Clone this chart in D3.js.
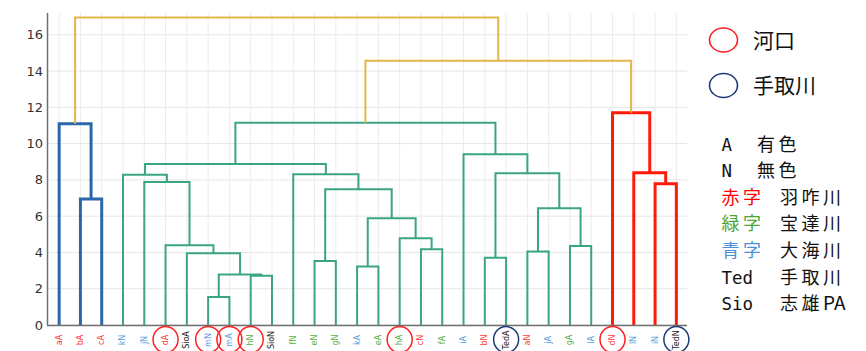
<!DOCTYPE html>
<html>
<head>
<meta charset="utf-8">
<script src="https://cdn.jsdelivr.net/npm/d3@7"></script>
<style>
  html, body { margin: 0; padding: 0; background: #fff; }
  svg { display: block; }
</style>
</head>
<body>
<svg id="chart" width="866" height="351"></svg>
<script>
// Leaf samples in dendrogram order
const leafLabels = ["aA","bA","cA","kN","jN","dA","SioA","mN","mA","hN","SioN","fN","eN","gN","kA","eA","hA","cN","fA","iA","bN","TedA","aN","jA","gA","lA","dN","lN","iN","TedN"];
// River of each sample: r = 羽咋川, g = 宝達川, b = 大海川, k = 手取川 / 志雄PA
const leafRiver = ["r","r","r","b","b","r","k","b","b","g","k","g","g","g","b","g","g","r","g","b","r","k","r","b","g","b","r","b","b","k"];
// Samples taken at a river mouth (red ring) and from the Tedori river (navy ring)
const mouthSamples = ["dA","mN","mA","hN","hA","dN"];
const tedoriSamples = ["TedA","TedN"];
// Linkage rows: [child a, child b, merge distance]; ids >= 30 refer to earlier rows
const linkage = [
  [7, 8, 1.55], [9, 10, 2.72], [30, 31, 2.78], [14, 15, 3.22], [12, 13, 3.53],
  [20, 21, 3.71], [6, 32, 3.95], [22, 23, 4.05], [17, 18, 4.17], [24, 25, 4.36],
  [5, 36, 4.40], [16, 38, 4.78], [33, 41, 5.89], [37, 39, 6.44], [1, 2, 6.95],
  [34, 42, 7.49], [28, 29, 7.78], [4, 40, 7.89], [3, 47, 8.28], [11, 45, 8.31],
  [35, 43, 8.37], [27, 46, 8.39], [48, 49, 8.88], [19, 50, 9.42], [0, 44, 11.09],
  [52, 53, 11.15], [26, 51, 11.70], [55, 56, 14.57], [54, 57, 16.95]
];
const yTicks = [0, 2, 4, 6, 8, 10, 12, 14, 16];
const legendMarks = [
  { text: "河口", ring: "#ff2020" },
  { text: "手取川", ring: "#1f3a78" }
];
const legendRows = [
  { key: "A", keyColor: "#111", desc: "有色", suffix: "" },
  { key: "N", keyColor: "#111", desc: "無色", suffix: "" },
  { key: "赤字", keyColor: "#ff0000", desc: "羽咋川", suffix: "" },
  { key: "緑字", keyColor: "#4fa534", desc: "宝達川", suffix: "" },
  { key: "青字", keyColor: "#4a8fd8", desc: "大海川", suffix: "" },
  { key: "Ted", keyColor: "#111", desc: "手取川", suffix: "" },
  { key: "Sio", keyColor: "#111", desc: "志雄", suffix: "PA" }
];

const riverColor = { r: "#ff3b3b", g: "#55b040", b: "#5b9be0", k: "#222" };
const clusterPalette = ["#2a68ab", "#3aa584", "#ff1a0a"];
const aboveColor = "#e3b54a";

const svg = d3.select("#chart");
const n = leafLabels.length;

const x = d3.scaleBand().domain(d3.range(n)).range([48.5, 687]);
const xc = i => x(i) + x.bandwidth() / 2;
const y = d3.scaleLinear().domain([0, 17.2]).range([325, 13]);

// grid
const grid = svg.append("g");
grid.selectAll("line.h").data(yTicks).join("line")
  .attr("x1", 48.5).attr("x2", 687)
  .attr("y1", d => y(d)).attr("y2", d => y(d))
  .attr("stroke", "#e6e6e6").attr("stroke-width", 1);
grid.selectAll("line.v").data(d3.range(n)).join("line")
  .attr("x1", d => xc(d)).attr("x2", d => xc(d))
  .attr("y1", y(0)).attr("y2", y(17.2))
  .attr("stroke", "#ececec").attr("stroke-width", 1);

// build node positions
const nodeX = d3.range(n).map(xc);
const nodeH = d3.range(n).map(() => 0);
linkage.forEach(([a, b, h]) => {
  nodeX.push((nodeX[a] + nodeX[b]) / 2);
  nodeH.push(h);
});

// colour clusters below the threshold
const maxH = d3.max(linkage, d => d[2]);
const threshold = 0.7 * maxH;
const linkColor = new Array(linkage.length).fill(aboveColor);
let paletteIdx = 0;
function paint(id, c) {
  if (id < n) return;
  linkColor[id - n] = c;
  paint(linkage[id - n][0], c);
  paint(linkage[id - n][1], c);
}
function assign(id) {
  if (id < n) return;
  const [a, b, h] = linkage[id - n];
  if (h < threshold) {
    paint(id, clusterPalette[paletteIdx++ % clusterPalette.length]);
  } else {
    assign(a); assign(b);
  }
}
assign(n + linkage.length - 1);

const links = linkage.map(([a, b, h], k) => ({ a, b, h, color: linkColor[k] }));
const line = d3.line().x(d => d[0]).y(d => y(d[1]));

svg.append("g").selectAll("path").data(links).join("path")
  .attr("d", d => line([[nodeX[d.a], nodeH[d.a]], [nodeX[d.a], d.h], [nodeX[d.b], d.h], [nodeX[d.b], nodeH[d.b]]]))
  .attr("fill", "none")
  .attr("stroke", d => d.color)
  .attr("stroke-width", d => d.color === aboveColor ? 2 : (d.color === clusterPalette[1] ? 2 : 3))
  .attr("stroke-linejoin", "miter");

// spines
svg.append("line").attr("x1", 47.5).attr("x2", 47.5).attr("y1", y(0)).attr("y2", y(17.2))
  .attr("stroke", "#707070").attr("stroke-width", 1.5);
svg.append("line").attr("x1", 47).attr("x2", 687).attr("y1", y(0) + 0.5).attr("y2", y(0) + 0.5)
  .attr("stroke", "#707070").attr("stroke-width", 1.5);

// y axis labels
svg.append("g").selectAll("text").data(yTicks).join("text")
  .attr("x", 43).attr("y", d => y(d))
  .attr("text-anchor", "end").attr("dominant-baseline", "central")
  .attr("font-family", "DejaVu Sans").attr("font-size", 13).attr("fill", "#333")
  .text(d => d);

// leaf labels
svg.append("g").selectAll("text").data(d3.range(n)).join("text")
  .attr("transform", d => `translate(${xc(d)},340) rotate(-90)`)
  .attr("text-anchor", "middle").attr("dominant-baseline", "central")
  .attr("font-family", "DejaVu Sans").attr("font-size", 8)
  .attr("fill", d => riverColor[leafRiver[d]])
  .text(d => leafLabels[d]);

// rings round the highlighted samples
const rings = [
  ...mouthSamples.map(s => ({ s, c: legendMarks[0].ring })),
  ...tedoriSamples.map(s => ({ s, c: legendMarks[1].ring }))
];
svg.append("g").selectAll("ellipse").data(rings).join("ellipse")
  .attr("cx", d => xc(leafLabels.indexOf(d.s)))
  .attr("cy", 339.5).attr("rx", 12.5).attr("ry", 13)
  .attr("fill", "none").attr("stroke", d => d.c).attr("stroke-width", 1.5);

// legend: rings
const lg = svg.append("g");
legendMarks.forEach((m, i) => {
  const cy = 40 + i * 45.5;
  lg.append("ellipse").attr("cx", 723.5).attr("cy", cy).attr("rx", 14).attr("ry", 12)
    .attr("fill", "none").attr("stroke", m.ring).attr("stroke-width", 1.6);
  lg.append("text").attr("x", 753).attr("y", cy + 7.5)
    .attr("font-family", "Noto Sans CJK JP").attr("font-size", 21).attr("fill", "#111")
    .text(m.text);
});

// legend: sample codes
legendRows.forEach((r, i) => {
  const base = 150.5 + i * 26.65;
  const latin = /^[A-Za-z]+$/.test(r.key);
  const t = lg.append("text").attr("x", 721.5).attr("y", base)
    .attr("font-size", 18).attr("fill", r.keyColor)
    .text(r.key);
  if (latin) {
    t.attr("font-family", "DejaVu Sans Mono")
      .attr("textLength", r.key.length * 10.5).attr("lengthAdjust", "spacingAndGlyphs");
  } else {
    t.attr("font-family", "Noto Sans CJK JP").attr("letter-spacing", 3.5);
  }
  const d = lg.append("text").attr("x", i < 2 ? 757 : 780).attr("y", base)
    .attr("font-family", "Noto Sans CJK JP").attr("font-size", 18).attr("fill", "#111");
  d.append("tspan").attr("letter-spacing", 3.5).text(r.desc);
  if (r.suffix) d.append("tspan").attr("font-size", 19).text(r.suffix);
});
</script>
</body>
</html>
